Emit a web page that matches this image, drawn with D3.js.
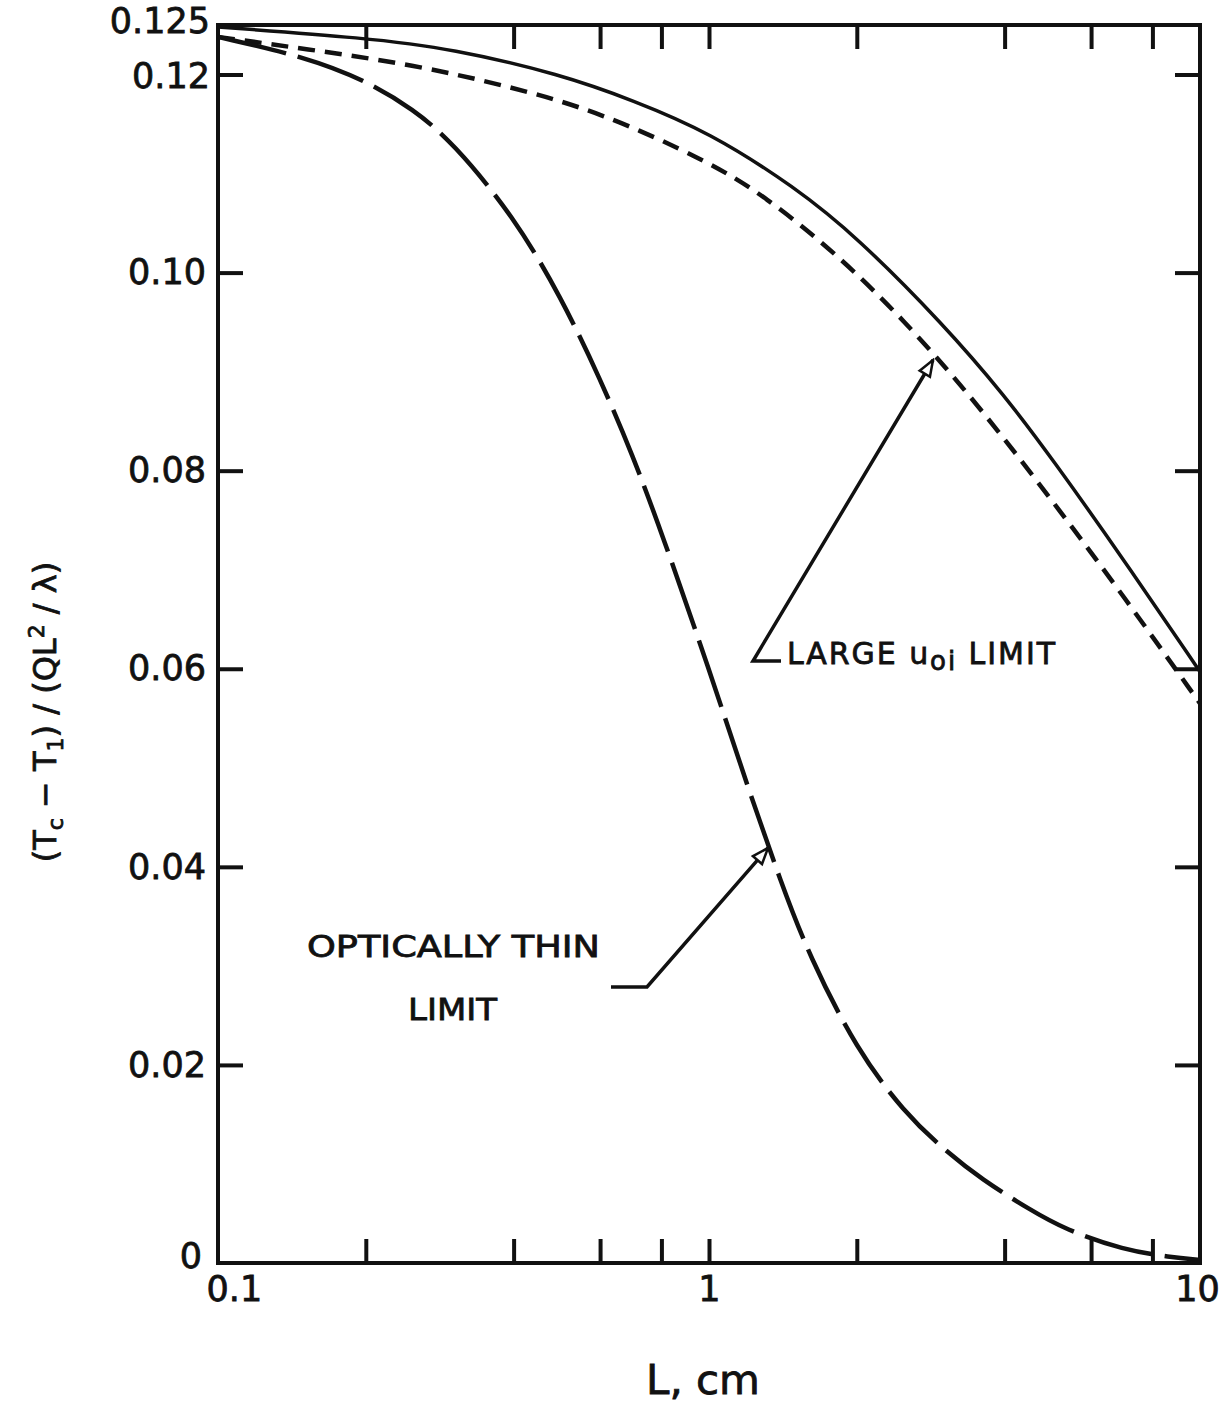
<!DOCTYPE html>
<html>
<head>
<meta charset="utf-8">
<script src="https://cdn.jsdelivr.net/npm/d3@7/dist/d3.min.js"></script>
<style>
  html, body { margin: 0; padding: 0; background: #fff; }
  svg { display: block; }
  text { font-family: "DejaVu Sans", sans-serif; fill: #111; }
</style>
</head>
<body>
<svg id="chart" width="1223" height="1402"></svg>
<script>
// ---------------- data ----------------
const L_solid   = [0.1, 0.2, 0.3, 0.5, 0.7, 1.0, 1.5, 2.0, 3.0, 4.0, 5.0, 7.0, 10];
const v_solid   = [0.1248, 0.1237, 0.1226, 0.1200, 0.1174, 0.1142, 0.1086, 0.1036, 0.0948, 0.0876, 0.0812, 0.0710, 0.0597];

const L_large   = [0.1, 0.15, 0.25, 0.4, 0.6, 1.0, 1.3, 1.8, 2.5, 3.5, 5.0, 7.0, 10];
const v_large   = [0.1238, 0.1226, 0.1210, 0.1187, 0.1162, 0.1112, 0.1077, 0.1021, 0.0952, 0.0869, 0.0770, 0.0673, 0.0565];

const L_thin    = [0.1, 0.15, 0.2, 0.25, 0.3, 0.4, 0.5, 0.6, 0.7, 0.8, 1.0, 1.2, 1.4, 1.6, 2.0, 2.5, 3.0, 3.6, 4.5, 5.3, 7.0, 8.7, 10];
const v_thin    = [0.1238, 0.1218, 0.1194, 0.1165, 0.1132, 0.1057, 0.0975, 0.0893, 0.0815, 0.0738, 0.0600, 0.0480, 0.0385, 0.0310, 0.0215, 0.0152, 0.0115, 0.0084, 0.0054, 0.0034, 0.0013, 0.0006, 0.0003];

const xMinorTicks = [0.2, 0.4, 0.6, 0.8, 1, 2, 4, 6, 8];
const xLabelTicks = [0.1, 1, 10];
const xLabels     = ["0.1", "1", "10"];
const yTicks      = [0, 0.02, 0.04, 0.06, 0.08, 0.10, 0.12, 0.125];
const yLabels     = ["0", "0.02", "0.04", "0.06", "0.08", "0.10", "0.12", "0.125"];

// ---------------- layout ----------------
const svg = d3.select("#chart");
const pLeft = 218, pRight = 1200, pTop = 25, pBottom = 1263;
const ink = "#111";

const x = d3.scaleLog().domain([0.1, 10]).range([pLeft, pRight]);
const y = d3.scaleLinear().domain([0, 0.125]).range([pBottom, pTop]);

// ticks: bottom (inward)
svg.append("g").attr("transform", `translate(0,${pBottom})`)
  .call(d3.axisBottom(x).tickValues(xMinorTicks).tickSize(-24).tickFormat(""))
  .call(g => g.select(".domain").remove())
  .selectAll("line").attr("stroke", ink).attr("stroke-width", 4);
// ticks: top (inward)
svg.append("g").attr("transform", `translate(0,${pTop})`)
  .call(d3.axisTop(x).tickValues(xMinorTicks).tickSize(-24).tickFormat(""))
  .call(g => g.select(".domain").remove())
  .selectAll("line").attr("stroke", ink).attr("stroke-width", 4);
// x labels
const gxl = svg.append("g").attr("transform", `translate(0,${pBottom})`)
  .call(d3.axisBottom(x).tickValues(xLabelTicks).tickSize(0).tickPadding(13)
        .tickFormat((d, i) => xLabels[i]));
gxl.select(".domain").remove();
gxl.selectAll("text").attr("font-size", 35).attr("fill", ink)
  .attr("stroke", ink).attr("stroke-width", 0.8)
  .attr("font-family", "DejaVu Sans, sans-serif");
gxl.selectAll(".tick").filter(d => d === 0.1).select("text")
  .attr("text-anchor", "start").attr("x", -12);
gxl.selectAll(".tick").filter(d => d === 10).select("text").attr("x", -3);

// y ticks left/right (inward)
const yInner = yTicks.filter(d => d !== 0 && d !== 0.125);
svg.append("g").attr("transform", `translate(${pLeft},0)`)
  .call(d3.axisLeft(y).tickValues(yInner).tickSize(-25).tickFormat(""))
  .call(g => g.select(".domain").remove())
  .selectAll("line").attr("stroke", ink).attr("stroke-width", 4);
svg.append("g").attr("transform", `translate(${pRight},0)`)
  .call(d3.axisRight(y).tickValues(yInner).tickSize(-25).tickFormat(""))
  .call(g => g.select(".domain").remove())
  .selectAll("line").attr("stroke", ink).attr("stroke-width", 4);
// y labels
const gyl = svg.append("g").attr("transform", `translate(${pLeft},0)`)
  .call(d3.axisLeft(y).tickValues(yTicks).tickSize(0).tickPadding(12)
        .tickFormat((d, i) => yLabels[i]));
gyl.select(".domain").remove();
gyl.selectAll("text").attr("font-size", 35).attr("fill", ink)
  .attr("stroke", ink).attr("stroke-width", 0.8)
  .attr("font-family", "DejaVu Sans, sans-serif");
gyl.selectAll(".tick").filter(d => d === 0.125).select("text").attr("dy", "0.2em").attr("x", -8);
gyl.selectAll(".tick").filter(d => d === 0.12).select("text").attr("dy", "0.38em").attr("x", -8);
gyl.selectAll(".tick").filter(d => d === 0).select("text").attr("dy", "0.14em").attr("x", -16);

// frame
svg.append("rect").attr("x", pLeft).attr("y", pTop)
  .attr("width", pRight - pLeft).attr("height", pBottom - pTop)
  .attr("fill", "none").attr("stroke", ink).attr("stroke-width", 4);

// curves
const line = d3.line().x(d => x(d[0])).y(d => y(d[1])).curve(d3.curveBasis);
const zip = (a, b) => a.map((v, i) => [v, b[i]]);

svg.append("path").datum(zip(L_solid, v_solid)).attr("d", line)
  .attr("fill", "none").attr("stroke", ink).attr("stroke-width", 3.5);
svg.append("path").datum(zip(L_large, v_large)).attr("d", line)
  .attr("fill", "none").attr("stroke", ink).attr("stroke-width", 4.5)
  .attr("stroke-dasharray", "17,10");
svg.append("path").datum(zip(L_thin, v_thin)).attr("d", line)
  .attr("fill", "none").attr("stroke", ink).attr("stroke-width", 4.5)
  .attr("stroke-dasharray", "70,12");

// arrow marker (open head)
svg.append("defs").append("marker")
  .attr("id", "ah").attr("viewBox", "0 0 20 20").attr("refX", 18).attr("refY", 10)
  .attr("markerWidth", 20).attr("markerHeight", 20).attr("markerUnits", "userSpaceOnUse")
  .attr("orient", "auto")
  .append("path").attr("d", "M2,4 L18,10 L2,16 Z")
  .attr("fill", "#fff").attr("stroke", ink).attr("stroke-width", 2.5);

// annotation: LARGE u_oi LIMIT
svg.append("path")
  .attr("d", "M781,661 L753,661 L933,360")
  .attr("fill", "none").attr("stroke", ink).attr("stroke-width", 3.5)
  .attr("marker-end", "url(#ah)");
const t1 = svg.append("text").attr("x", 787).attr("y", 664).attr("font-size", 30)
  .attr("stroke", ink).attr("stroke-width", 0.8)
  .attr("textLength", 268).attr("lengthAdjust", "spacing");
t1.append("tspan").text("LARGE ");
t1.append("tspan").text("u");
t1.append("tspan").attr("dy", 6).attr("font-size", 26).text("oi");
t1.append("tspan").attr("dy", -6).text(" LIMIT");

// annotation: OPTICALLY THIN LIMIT
svg.append("path")
  .attr("d", "M611,987 L647,987 L768,848")
  .attr("fill", "none").attr("stroke", ink).attr("stroke-width", 3.5)
  .attr("marker-end", "url(#ah)");
svg.append("text").attr("x", 307).attr("y", 957).attr("font-size", 30)
  .attr("stroke", ink).attr("stroke-width", 0.8)
  .attr("textLength", 293).attr("lengthAdjust", "spacingAndGlyphs")
  .text("OPTICALLY  THIN");
svg.append("text").attr("x", 408).attr("y", 1020).attr("font-size", 30)
  .attr("stroke", ink).attr("stroke-width", 0.8)
  .attr("textLength", 89).attr("lengthAdjust", "spacingAndGlyphs")
  .text("LIMIT");

// axis titles
svg.append("text").attr("x", 646).attr("y", 1394).attr("font-size", 40)
  .attr("stroke", ink).attr("stroke-width", 0.8)
  .attr("textLength", 114).attr("lengthAdjust", "spacingAndGlyphs")
  .text("L, cm");

const yt = svg.append("text")
  .attr("transform", "translate(56,712) rotate(-90)")
  .attr("text-anchor", "middle").attr("font-size", 32)
  .attr("stroke", ink).attr("stroke-width", 0.8);
yt.append("tspan").text("(T");
yt.append("tspan").attr("dy", 7).attr("font-size", 22).text("c");
yt.append("tspan").attr("dy", -7).text(" − T");
yt.append("tspan").attr("dy", 7).attr("font-size", 22).text("1");
yt.append("tspan").attr("dy", -7).text(") / (QL");
yt.append("tspan").attr("dy", -12).attr("font-size", 22).text("2");
yt.append("tspan").attr("dy", 12).text(" / λ)");
</script>
</body>
</html>
